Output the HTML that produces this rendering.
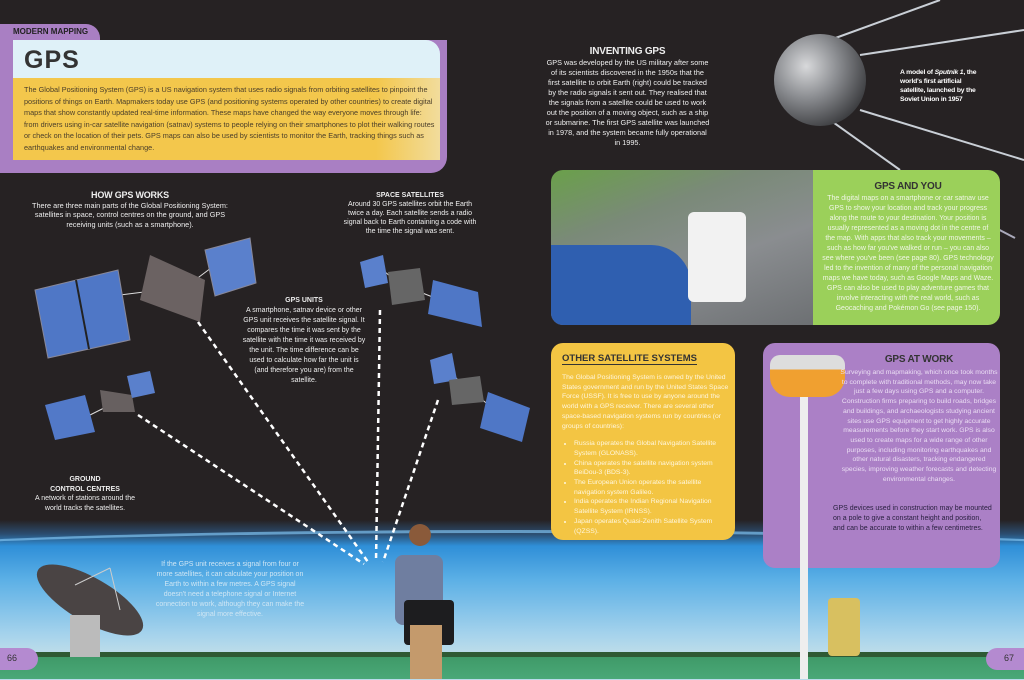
<!DOCTYPE html>
<html><head><meta charset="utf-8"><style>
*{margin:0;padding:0;box-sizing:border-box}
body{width:1024px;height:679px;overflow:hidden;background:#262223;font-family:"Liberation Sans",sans-serif;position:relative;color:#fff}
.a{position:absolute}
.t{font-size:7.3px;line-height:9.6px;text-align:center;color:#eee}
.h{font-weight:bold;font-size:9px;letter-spacing:-0.2px}
</style></head><body>
<!-- earth -->
<div class="a" style="left:0;top:520px;width:1024px;height:160px;background:linear-gradient(#262223 0px,#2b4d70 14px,#2f8fd8 26px,#5cb0e6 60px,#a6d3ec 115px,#b9dbea 130px)"></div>
<div class="a" style="left:-200px;top:530px;width:1424px;height:60px;border-radius:50%/30px;border-top:3px solid #7dc0ee;opacity:.7"></div>
<div class="a" style="left:0;top:652px;width:1024px;height:6px;background:#2f5a34"></div>
<div class="a" style="left:0;top:657px;width:1024px;height:22px;background:linear-gradient(#3f9a68,#4aa878)"></div>

<!-- header -->
<div class="a" style="left:0;top:24px;width:100px;height:24px;background:#a97fc3;border-radius:0 14px 0 0"></div>
<div class="a" style="left:13px;top:27px;font-size:8px;font-weight:bold;color:#222">MODERN MAPPING</div>
<div class="a" style="left:0;top:40px;width:447px;height:133px;background:#a97fc3;border-radius:0 0 16px 0"></div>
<div class="a" style="left:13px;top:40px;width:427px;height:120px;border-radius:0 14px 0 0;overflow:hidden">
 <div style="height:38px;background:#dff1f8"></div>
 <div style="height:82px;background:linear-gradient(90deg,#f3c74c 85%,#f2dc9c)"></div>
</div>
<div class="a" style="left:24px;top:46px;font-size:25px;font-weight:bold;color:#333;letter-spacing:1px;font-family:'Liberation Sans Narrow','Liberation Sans',sans-serif">GPS</div>
<div class="a" style="left:24px;top:84px;width:412px;font-size:7.3px;line-height:11.6px;color:#4a3e2a">The Global Positioning System (GPS) is a US navigation system that uses radio signals from orbiting satellites to pinpoint the positions of things on Earth. Mapmakers today use GPS (and positioning systems operated by other countries) to create digital maps that show constantly updated real-time information. These maps have changed the way everyone moves through life: from drivers using in-car satellite navigation (satnav) systems to people relying on their smartphones to plot their walking routes or check on the location of their pets. GPS maps can also be used by scientists to monitor the Earth, tracking things such as earthquakes and environmental change.</div>

<!-- how gps works -->
<div class="a t" style="left:30px;top:191px;width:200px"><div class="h">HOW GPS WORKS</div>There are three main parts of the Global Positioning System: satellites in space, control centres on the ground, and GPS receiving units (such as a smartphone).</div>
<div class="a t" style="left:340px;top:191px;width:140px;font-size:7px;line-height:9px"><div style="font-weight:bold">SPACE SATELLITES</div>Around 30 GPS satellites orbit the Earth twice a day. Each satellite sends a radio signal back to Earth containing a code with the time the signal was sent.</div>
<div class="a t" style="left:242px;top:296px;width:124px;font-size:7px;line-height:10px"><div style="font-weight:bold">GPS UNITS</div>A smartphone, satnav device or other GPS unit receives the satellite signal. It compares the time it was sent by the satellite with the time it was received by the unit. The time difference can be used to calculate how far the unit is (and therefore you are) from the satellite.</div>
<div class="a t" style="left:30px;top:475px;width:110px;font-size:7px;line-height:9.5px"><div style="font-weight:bold">GROUND<br>CONTROL CENTRES</div>A network of stations around the world tracks the satellites.</div>

<svg class="a" style="left:0;top:0" width="1024" height="679">
<g stroke="#fff" stroke-width="2.5" stroke-dasharray="5,4" fill="none">
<line x1="198" y1="322" x2="368" y2="562"/>
<line x1="138" y1="415" x2="364" y2="564"/>
<line x1="380" y1="310" x2="376" y2="562"/>
<line x1="438" y1="400" x2="383" y2="562"/>
</g>
<g stroke="#ddd" stroke-width="1">
<line x1="120" y1="295" x2="160" y2="290"/><line x1="195" y1="280" x2="215" y2="265"/>
<line x1="90" y1="415" x2="110" y2="405"/><line x1="385" y1="272" x2="395" y2="280"/><line x1="420" y1="292" x2="440" y2="300"/>
<line x1="452" y1="373" x2="462" y2="385"/><line x1="480" y1="398" x2="495" y2="410"/>
</g>
<polygon points="35,290 118,270 130,340 48,358" fill="#4f77c6" stroke="#889"/>
<line x1="76" y1="280" x2="89" y2="349" stroke="#222" stroke-width="2"/>
<polygon points="150,255 205,280 200,322 140,300" fill="#6b6262"/>
<polygon points="205,250 250,238 256,283 215,296" fill="#5a80cc" stroke="#889"/>
<polygon points="45,405 85,395 95,432 55,440" fill="#5279c8"/>
<polygon points="100,390 132,395 135,412 103,412" fill="#676060"/>
<polygon points="127,376 150,371 155,393 132,398" fill="#5a80cc"/>
<polygon points="360,262 383,255 388,283 365,288" fill="#5a80cc"/>
<polygon points="388,272 420,268 425,300 392,305" fill="#666"/>
<polygon points="433,280 478,292 482,327 428,314" fill="#4f77c6"/>
<polygon points="430,360 452,353 457,380 434,384" fill="#5a80cc"/>
<polygon points="449,380 480,376 484,402 452,405" fill="#666"/>
<polygon points="488,392 530,408 522,442 480,428" fill="#4f77c6"/>
<ellipse cx="90" cy="600" rx="60" ry="22" transform="rotate(30 90 600)" fill="#4a4444"/>
<line x1="75" y1="585" x2="110" y2="568" stroke="#ccc"/><line x1="110" y1="568" x2="120" y2="610" stroke="#ccc"/>
<rect x="70" y="615" width="30" height="42" fill="#bbb"/>
<rect x="395" y="555" width="48" height="70" rx="8" fill="#6f7ea0"/>
<circle cx="420" cy="535" r="11" fill="#8a5a3a"/>
<rect x="404" y="600" width="50" height="45" rx="4" fill="#1d1d1f"/>
<rect x="410" y="625" width="32" height="54" fill="#c49a6c"/>
<g stroke="#c9cfd6" stroke-width="2">
<line x1="830" y1="40" x2="940" y2="0"/><line x1="860" y1="55" x2="1024" y2="30"/><line x1="860" y1="110" x2="1024" y2="160"/><line x1="830" y1="120" x2="900" y2="170"/>
</g>
<line x1="990" y1="225" x2="1015" y2="238" stroke="#aab" stroke-width="2"/>
<defs><radialGradient id="sp" cx="0.35" cy="0.35" r="0.7"><stop offset="0" stop-color="#d8d9db"/><stop offset="0.5" stop-color="#8a8c90"/><stop offset="1" stop-color="#3e3f42"/></radialGradient></defs>
<circle cx="820" cy="80" r="46" fill="url(#sp)"/>
</svg>

<div class="a t" style="left:545px;top:46px;width:165px;font-size:7.3px;line-height:10px"><div class="h" style="font-size:10px;line-height:12px">INVENTING GPS</div>GPS was developed by the US military after some of its scientists discovered in the 1950s that the first satellite to orbit Earth (right) could be tracked by the radio signals it sent out. They realised that the signals from a satellite could be used to work out the position of a moving object, such as a ship or submarine. The first GPS satellite was launched in 1978, and the system became fully operational in 1995.</div>
<div class="a" style="left:900px;top:68px;width:80px;font-size:6.8px;line-height:9px;font-weight:bold;letter-spacing:-0.2px">A model of <i>Sputnik 1</i>, the world's first artificial satellite, launched by the Soviet Union in 1957</div>

<div class="a" style="left:551px;top:170px;width:449px;height:155px;border-radius:12px;overflow:hidden">
 <div class="a" style="left:0;top:0;width:262px;height:155px;background:linear-gradient(160deg,#6aa04a 0%,#7a8a78 30%,#8a8d90 60%,#6d7073)"></div>
 <div class="a" style="left:0;top:75px;width:140px;height:80px;background:#2f5fb0;border-radius:0 40px 0 0"></div>
 <div class="a" style="left:137px;top:42px;width:58px;height:90px;background:#f2f2f2;border-radius:6px"></div>
 <div class="a" style="left:262px;top:0;width:187px;height:155px;background:#9bd05a"></div>
</div>
<div class="a t" style="left:822px;top:180px;width:172px;color:#f0f6e6;font-size:7px;line-height:10px"><div class="h" style="color:#333;font-size:10px;line-height:14px">GPS AND YOU</div>The digital maps on a smartphone or car satnav use GPS to show your location and track your progress along the route to your destination. Your position is usually represented as a moving dot in the centre of the map. With apps that also track your movements – such as how far you've walked or run – you can also see where you've been (see page 80). GPS technology led to the invention of many of the personal navigation maps we have today, such as Google Maps and Waze. GPS can also be used to play adventure games that involve interacting with the real world, such as Geocaching and Pokémon Go (see page 150).</div>

<div class="a" style="left:551px;top:343px;width:184px;height:197px;background:#f3c543;border-radius:12px"></div>
<div class="a" style="left:562px;top:353px;font-size:9.5px;font-weight:bold;color:#333;border-bottom:1px solid #333">OTHER SATELLITE SYSTEMS</div>
<div class="a" style="left:562px;top:373px;width:168px;font-size:6.8px;line-height:9.7px;color:#fff6dc">The Global Positioning System is owned by the United States government and run by the United States Space Force (USSF). It is free to use by anyone around the world with a GPS receiver. There are several other space-based navigation systems run by countries (or groups of countries):
<ul style="margin-top:8px;padding-left:12px">
<li>Russia operates the Global Navigation Satellite System (GLONASS).</li>
<li>China operates the satellite navigation system BeiDou-3 (BDS-3).</li>
<li>The European Union operates the satellite navigation system Galileo.</li>
<li>India operates the Indian Regional Navigation Satellite System (IRNSS).</li>
<li>Japan operates Quasi-Zenith Satellite System (QZSS).</li></ul></div>

<div class="a" style="left:763px;top:343px;width:237px;height:225px;background:#ab80c6;border-radius:12px"></div>
<div class="a" style="left:800px;top:395px;width:8px;height:284px;background:#eee"></div>
<div class="a" style="left:770px;top:355px;width:75px;height:42px;background:linear-gradient(#ddd 0 35%,#f0a030 35%);border-radius:10px 10px 20px 20px"></div>
<div class="a" style="left:828px;top:598px;width:32px;height:58px;background:#d8c060;border-radius:4px"></div>
<div class="a t" style="left:840px;top:352px;width:158px;color:#eadcf3;font-size:6.8px;line-height:9.7px"><div class="h" style="color:#333;font-size:10px;line-height:16px">GPS AT WORK</div>Surveying and mapmaking, which once took months to complete with traditional methods, may now take just a few days using GPS and a computer. Construction firms preparing to build roads, bridges and buildings, and archaeologists studying ancient sites use GPS equipment to get highly accurate measurements before they start work. GPS is also used to create maps for a wide range of other purposes, including monitoring earthquakes and other natural disasters, tracking endangered species, improving weather forecasts and detecting environmental changes.</div>
<div class="a" style="left:833px;top:504px;width:160px;font-size:7px;line-height:10px;color:#2a2040">GPS devices used in construction may be mounted on a pole to give a constant height and position, and can be accurate to within a few centimetres.</div>

<div class="a t" style="left:155px;top:560px;width:150px;color:#cfe6f4;font-size:7px;line-height:10px">If the GPS unit receives a signal from four or more satellites, it can calculate your position on Earth to within a few metres. A GPS signal doesn't need a telephone signal or Internet connection to work, although they can make the signal more effective.</div>

<div class="a" style="left:0;top:648px;width:38px;height:22px;background:#b48ad0;border-radius:0 14px 14px 0;font-size:9px;color:#333;padding:5px 0 0 7px">66</div>
<div class="a" style="left:986px;top:648px;width:38px;height:22px;background:#b48ad0;border-radius:14px 0 0 14px;font-size:9px;color:#333;padding:5px 0 0 18px">67</div>
</body></html>
